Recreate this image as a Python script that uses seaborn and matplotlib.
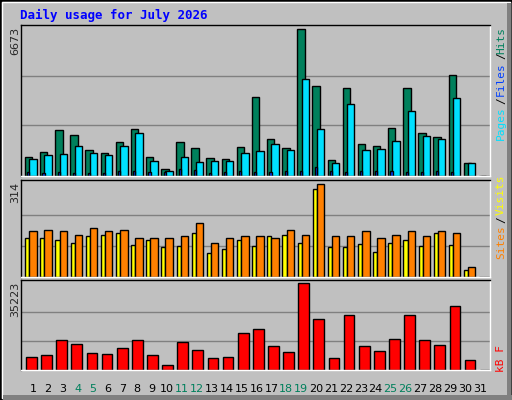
import matplotlib
matplotlib.use("Agg")
import matplotlib.pyplot as plt
import seaborn as sns
import numpy as np
from matplotlib.patches import Rectangle

sns.set_style("white")

days = list(range(1, 32))
weekend = [4, 5, 11, 12, 18, 19, 25, 26]
hits = [850, 1077, 2078, 1851, 1168, 1032, 1532, 2124, 850, 303, 1532, 1259, 804, 758, 1305,
        3580, 1669, 1259, 6673, 4081, 713, 3990, 1441, 1350, 2169, 3990, 1942, 1760, 4581, 576, 0]
files = [758, 941, 986, 1350, 1032, 941, 1350, 1942, 667, 212, 850, 622, 667, 667, 1032,
         1123, 1441, 1168, 4399, 2124, 576, 3262, 1168, 1214, 1578, 2943, 1805, 1669, 3535, 576, 0]
pages = [160, 130, 180, 150, 140, 130, 220, 230, 170, 190, 300, 260, 140, 200, 230,
         170, 180, 230, 230, 420, 230, 170, 230, 210, 240, 190, 170, 230, 170, 20, 0]
sites = [130, 130, 126, 116, 137, 143, 150, 109, 126, 102, 106, 147, 82, 96, 126,
         106, 140, 143, 116, 297, 102, 102, 113, 85, 116, 126, 106, 147, 109, 24, 0]
visits = [157, 160, 157, 143, 164, 154, 160, 130, 133, 133, 137, 184, 116, 130, 140,
          140, 133, 160, 143, 314, 137, 137, 154, 130, 143, 154, 137, 154, 147, 34, 0]
kbytes = [5142, 5914, 12086, 10543, 6685, 6300, 9000, 12086, 5914, 2057, 11314, 8228, 4757, 5142, 15170,
          16713, 9771, 7457, 35223, 20570, 4757, 22112, 9771, 7842, 12470, 22112, 12086, 10157, 25970, 3985, 0]

W, H = 512, 400
fig = plt.figure(figsize=(W/100, H/100), dpi=100)
fig.patch.set_facecolor("#c0c0c0")
fig.patches.append(Rectangle((0, 0), 1, 1, transform=fig.transFigure, fill=False, ec="black", lw=2))
fig.patches.append(Rectangle((2/W, 2/H), 1-4/W, 1-4/H, transform=fig.transFigure, fill=False, ec="white", lw=1))
fig.patches.append(Rectangle((3/W, 0), 1-3/W, 5/H, transform=fig.transFigure, fc="#808080", ec="none"))
fig.patches.append(Rectangle((1-5/W, 0), 4/W, 1-3/H, transform=fig.transFigure, fc="#808080", ec="none"))

def mkax(top, bottom):
    ax = fig.add_axes([21/W, 1-bottom/H, 469/W, (bottom-top)/H])
    ax.set_facecolor("#c0c0c0")
    ax.set_xlim(0, 31)
    ax.set_xticks([]); ax.set_yticks([])
    for s in ax.spines.values():
        s.set_color("black"); s.set_linewidth(1)
    ax.spines["right"].set_color("white"); ax.spines["bottom"].set_color("white")
    return ax

x = np.arange(31)
ek = dict(edgecolor="black", linewidth=1, align="edge")

ax1 = mkax(25, 176)
m = max(hits) * 151 / 147
ax1.set_ylim(0, m)
for f in (1/3, 2/3):
    ax1.axhline(max(hits)*f + 0.01*m, color="#808080", lw=1, zorder=0)
ax1.bar(x + 0.26, hits, width=0.49, color="#00805c", **ek)
ax1.bar(x + 0.55, files, width=0.49, color="#00e0ff", **ek)
ax1.bar(x + 0.42, pages, width=0.14, color="#0040ff", **ek)

ax2 = mkax(180, 277)
m2 = max(visits) * 97 / 93
ax2.set_ylim(0, m2)
for f in (1/3, 2/3):
    ax2.axhline(max(visits)*f, color="#808080", lw=1, zorder=0)
ax2.bar(x + 0.28, sites, width=0.27, color="#ffff00", **ek)
ax2.bar(x + 0.55, visits, width=0.49, color="#ff8000", **ek)

ax3 = mkax(280, 370)
m3 = max(kbytes) * 90 / 87
ax3.set_ylim(0, m3)
for f in (1/3, 2/3):
    ax3.axhline(max(kbytes)*f, color="#808080", lw=1, zorder=0)
ax3.bar(x + 0.33, kbytes, width=0.71, color="#ff0000", **ek)

def pt(px, py, s, **kw):
    fig.text(px/W, 1-py/H, s, **kw)

pt(20, 15, "Daily usage for July 2026", color="#0000ff", fontsize=9, fontweight="bold",
   family="DejaVu Sans Mono", va="center")

lk = dict(rotation=90, fontsize=8, family="DejaVu Sans", ha="center", va="top")
pt(15, 27, f"{max(hits)}", **lk)
pt(15, 182, f"{max(visits)}", **lk)
pt(15, 282, f"{max(kbytes)}", **lk)

rk = dict(rotation=90, fontsize=8, family="DejaVu Sans Mono", ha="center", va="center")
pt(501, 40, "Hits", color="#00805c", **rk)
pt(501, 56, "/", color="#000000", **rk)
pt(501, 79, "Files", color="#0040ff", **rk)
pt(501, 101, "/", color="#000000", **rk)
pt(501, 123, "Pages", color="#00e0ff", **rk)
pt(501, 195, "Visits", color="#ffff00", **rk)
pt(501, 220, "/", color="#000000", **rk)
pt(501, 242, "Sites", color="#ff8000", **rk)
pt(501, 359, "kB F", color="#ff0000", **rk)

for d in days:
    c = "#00805c" if d in weekend else "black"
    pt(33 + 14.9*(d-1), 389, str(d), color=c, fontsize=8, ha="center", va="center", family="DejaVu Sans")

fig.savefig("out.png", dpi=100, facecolor=fig.get_facecolor())
